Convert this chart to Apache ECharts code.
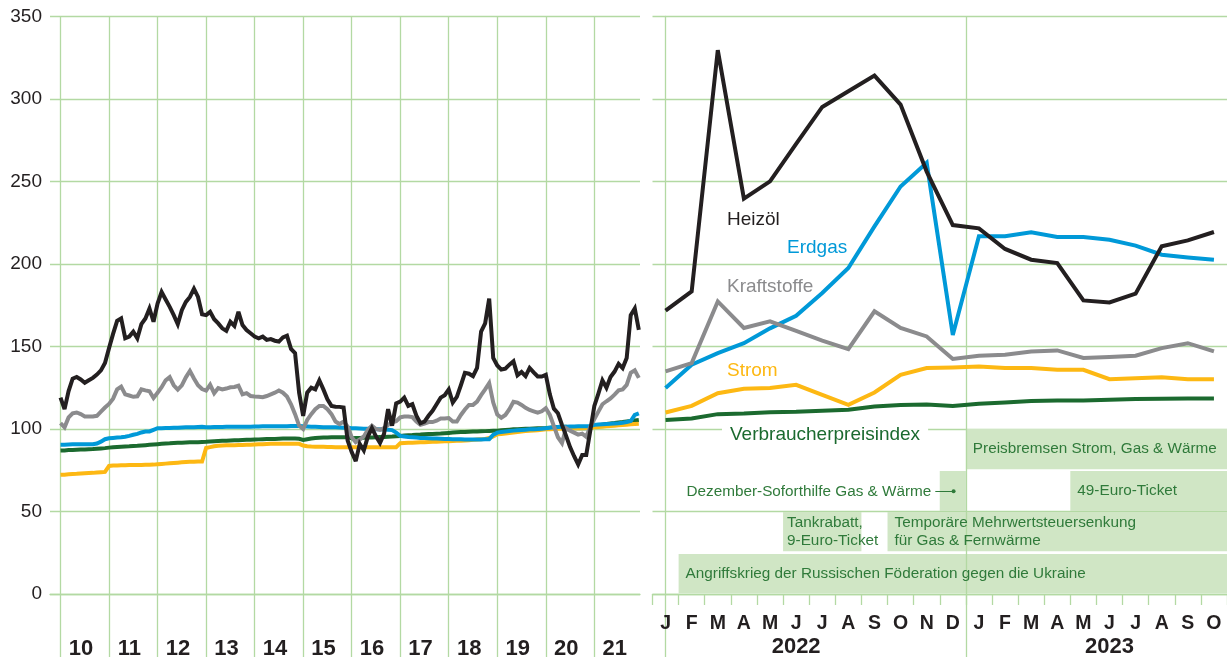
<!DOCTYPE html>
<html>
<head>
<meta charset="utf-8">
<script src="https://cdn.jsdelivr.net/npm/echarts@6/dist/echarts.min.js"></script>
<style>
  html, body { margin: 0; padding: 0; background: #fff; }
  #chart { width: 1227px; height: 657px; }
</style>
</head>
<body>
<div id="chart"></div>
<script>
// ---- left panel: monthly index values, Jan 2010 - Dec 2021 ----
const years = [2010, 2011, 2012, 2013, 2014, 2015, 2016, 2017, 2018, 2019, 2020, 2021];
const yearLabels = ['10', '11', '12', '13', '14', '15', '16', '17', '18', '19', '20', '21'];

const heizoelHist = [
    119, 112, 123, 130.5, 131.5, 130, 128, 129.5, 131, 133, 135.5, 140,
    149, 157.6, 165.5, 167, 155, 156, 159, 155, 163.5, 167, 173, 165,
    176, 183, 178.5, 174, 169, 163.5, 172, 177, 180, 185, 180, 169.5,
    169, 171, 166.5, 164, 161, 159.5, 165, 162.5, 171, 163, 160, 158,
    156, 155, 156, 154, 154.5, 153.5, 153, 155.5, 156.5, 148.5, 146, 122,
    108, 122, 125, 124, 129.5, 124, 118, 114, 113.5, 113.4, 113, 93,
    86, 80.5, 91, 87, 95.4, 100.5, 95.5, 91.5, 97, 112, 102, 115.5,
    116.6, 119, 114, 115, 108, 103.5, 104.5, 108, 111, 115, 119, 120.5,
    124, 116, 119.5, 126.5, 134, 133.5, 132, 137, 159, 164, 179, 143,
    138.5, 136, 136.5, 139, 141, 132.5, 134.5, 132, 137, 134.3, 131.8, 131.8,
    132.8, 121, 112.3, 109.5, 102.5, 96, 89, 83.5, 78.5, 84.3, 84.3, 99,
    114, 121.5, 129.5, 125, 131.5, 134.8, 139.5, 136.9, 143, 169, 173, 160
];
const kraftstoffeHist = [
    103.5, 101, 107, 109.5, 110, 109, 107.6, 107.6, 107.6, 108, 110.5, 113,
    115.2, 118.4, 124, 125.7, 121, 120.3, 119.5, 119.8, 124, 123.4, 122.9, 118.8,
    122, 125.3, 129.5, 131.4, 126.5, 123.9, 126.4, 131.3, 135.2, 130.6, 126.5, 124.2,
    123.3, 126.8, 121.7, 124.8, 124, 124.5, 125.3, 125.5, 126.2, 121, 121.7, 120,
    119.7, 119.5, 119.3, 120, 121, 122, 123.3, 122, 119.7, 115, 109, 102,
    100, 105.5, 109, 112, 114, 114, 112, 109, 104.5, 103, 104.5, 101.5,
    95, 92, 93.6, 95.5, 99.6, 102, 100, 99.5, 100.5, 102.5, 104, 104.7,
    107, 107.6, 107.6, 107.2, 104.5, 102.5, 103.2, 104.2, 104.2, 105, 106.4, 106.3,
    106.6, 104.5, 104.5, 108.5, 111.8, 114.6, 114.6, 116.6, 120.5, 124, 127.8, 116,
    108.8, 106.8, 108.5, 112, 116.5, 116, 114.6, 112.8, 111.5, 110.7, 109.9, 110.7,
    112.6, 108.5, 101.7, 95, 91.5, 100.5, 99, 97.8, 96.6, 97.2, 95.3, 101.3,
    106, 110.5, 115, 116.8, 118.5, 120.8, 123.4, 124, 126.7, 134, 135.5, 131
];
const erdgasHist = [
    90.5, 90.5, 90.6, 90.7, 90.8, 90.8, 90.8, 90.8, 90.8, 91.2, 92.3, 93.8,
    94.4, 94.6, 94.8, 95, 95.3, 95.8, 96.5, 97, 97.9, 98.5, 98.5, 99.5,
    100.5, 100.5, 100.6, 100.6, 100.7, 100.8, 100.9, 101, 101, 101.1, 101.2, 101.3,
    101.1, 101.1, 101.2, 101.2, 101.2, 101.3, 101.3, 101.3, 101.3, 101.3, 101.4, 101.4,
    101.5, 101.5, 101.6, 101.6, 101.6, 101.6, 101.7, 101.7, 101.7, 101.8, 101.8, 101.8,
    101.6, 101.5, 101.4, 101.3, 101.2, 101.1, 101.1, 101, 101, 100.9, 100.8, 100.7,
    100.5, 100.4, 100.3, 100.2, 100.1, 100, 99.9, 99.8, 99.7, 99.6, 99.3, 97.8,
    95.8, 95.5, 95.2, 95, 94.8, 94.6, 94.5, 94.4, 94.3, 94.2, 94.1, 94,
    93.9, 93.8, 93.8, 93.8, 93.7, 93.7, 93.7, 93.7, 93.7, 93.8, 93.8, 96.5,
    97.8, 98.2, 98.5, 98.8, 99, 99.2, 99.4, 99.6, 99.8, 99.9, 100, 100.2,
    100.5, 100.8, 101, 101.2, 101.3, 101.4, 101.5, 101.5, 101.6, 101.6, 101.7, 101.8,
    102.5, 102.7, 102.9, 103, 103.1, 103.3, 103.5, 103.8, 104.2, 104.8, 108.5, 109.5
];
const stromHist = [
    72.2, 72.3, 72.5, 72.7, 72.8, 73, 73.2, 73.3, 73.4, 73.6, 73.8, 74,
    77.6, 77.8, 77.9, 78, 78, 78.1, 78.1, 78.2, 78.2, 78.3, 78.3, 78.4,
    78.6, 78.8, 79, 79.2, 79.4, 79.6, 79.8, 80, 80.1, 80.2, 80.3, 80.3,
    88.5, 89, 89.5, 89.8, 90, 90.1, 90.2, 90.2, 90.3, 90.3, 90.4, 90.4,
    90.6, 90.7, 90.8, 90.9, 91, 91, 91, 91, 91, 91, 91, 91,
    90, 89.6, 89.4, 89.3, 89.2, 89.2, 89.1, 89.1, 89, 89, 89, 89,
    89, 89, 89, 89, 89, 89, 89, 89, 89, 89, 89, 89,
    91.4, 91.5, 91.6, 91.7, 91.8, 91.9, 92, 92.1, 92.2, 92.3, 92.4, 92.5,
    92.6, 92.7, 92.8, 92.9, 93, 93.2, 93.4, 93.6, 93.8, 94, 94.5, 95.5,
    96.8, 97, 97.3, 97.6, 97.9, 98.2, 98.5, 98.7, 98.9, 99.1, 99.3, 99.5,
    99.8, 99.9, 100, 100.1, 100.2, 100.3, 100.4, 100.4, 100.5, 100.5, 100.6, 100.7,
    101, 101.2, 101.4, 101.6, 101.8, 102, 102.2, 102.4, 102.6, 102.8, 103, 103.2
];
const vpiHist = [
    86.9, 87, 87.2, 87.3, 87.4, 87.5, 87.6, 87.7, 87.8, 88, 88.2, 88.4,
    88.7, 88.9, 89.1, 89.3, 89.4, 89.5, 89.7, 89.8, 90, 90.2, 90.4, 90.6,
    90.8, 91, 91.2, 91.3, 91.5, 91.6, 91.7, 91.8, 91.9, 92, 92, 92.1,
    92.2, 92.4, 92.6, 92.7, 92.8, 92.9, 93, 93.1, 93.2, 93.3, 93.4, 93.5,
    93.6, 93.7, 93.8, 93.9, 94, 94, 94.1, 94.2, 94.2, 94.2, 94.2, 94.1,
    93.4, 93.8, 94.2, 94.5, 94.7, 94.8, 94.9, 95, 95, 95, 95, 95,
    94.4, 94.5, 94.6, 94.7, 94.8, 94.9, 95, 95.1, 95.2, 95.3, 95.4, 95.6,
    95.8, 96, 96.2, 96.3, 96.5, 96.6, 96.8, 96.9, 97, 97.1, 97.2, 97.4,
    97.6, 97.8, 98, 98.1, 98.2, 98.3, 98.4, 98.5, 98.6, 98.7, 98.8, 98.9,
    99, 99.2, 99.4, 99.6, 99.8, 99.9, 100, 100.1, 100.2, 100.3, 100.4, 100.5,
    100.6, 100.8, 101, 101.2, 101.3, 101.4, 100.6, 100.5, 100.5, 100.4, 100.4, 100.5,
    101.8, 102.2, 102.6, 103, 103.3, 103.6, 104, 104.2, 104.5, 104.8, 105.2, 105.5
];

// ---- right panel: Jan 2022 - Oct 2023 ----
const monthLetters = ['J', 'F', 'M', 'A', 'M', 'J', 'J', 'A', 'S', 'O', 'N', 'D',
    'J', 'F', 'M', 'A', 'M', 'J', 'J', 'A', 'S', 'O'];
const yearUnderMonth = {5: '2022', 17: '2023'};

const heizoel = [171.7, 183.4, 329.6, 239.6, 250.1, 272.8, 295.2, 304.7, 314.2, 296.6, 256, 223.6,
    221.6, 209.1, 202.6, 200.6, 177.9, 176.7, 182, 210.7, 214.3, 219.4];
const erdgas = [124.8, 138.9, 146, 152, 161, 168.6, 182.4, 197.6, 222.8, 247, 261.3, 157,
    216.8, 216.8, 219.2, 216.4, 216.4, 214.7, 211.1, 205.6, 204, 202.6];
const kraftstoffe = [134.9, 139.9, 177.3, 161.2, 165.2, 159.5, 153.5, 148.4, 171.3, 161.2, 156.1, 142.4,
    144.4, 145, 147, 147.6, 143, 143.6, 144.4, 149, 152, 147];
const strom = [110, 114, 121.7, 124.4, 124.8, 126.8, 120.7, 114.6, 122.1, 132.8, 136.9, 137.3,
    137.9, 136.9, 136.9, 135.9, 135.9, 130.2, 130.8, 131.4, 130.2, 130.2];
const vpi = [105.5, 106.4, 109, 109.4, 110.2, 110.4, 111, 111.6, 113.6, 114.5, 114.9, 114,
    115.3, 116, 116.9, 117.3, 117.3, 117.7, 118.1, 118.3, 118.5, 118.5];

// relief measures (month index ranges, row from top)
const measures = [
    {text: 'Preisbremsen Strom, Gas & Wärme', from: 11.5, to: 21.5, row: 0},
    {text: '', from: 10.5, to: 11.5, row: 1},
    {text: '49-Euro-Ticket', from: 15.5, to: 21.5, row: 1},
    {text: 'Tankrabatt,\n9-Euro-Ticket', from: 4.5, to: 7.5, row: 2, pad: 4},
    {text: 'Temporäre Mehrwertsteuersenkung\nfür Gas & Fernwärme', from: 8.5, to: 21.5, row: 2},
    {text: 'Angriffskrieg der Russischen Föderation gegen die Ukraine', from: 0.5, to: 21.5, row: 3}
];
const yTicks = [0, 50, 100, 150, 200, 250, 300, 350];

const GRID = '#b3d9a3';
const BLACK = '#231f20', GRAY = '#8b8b8d', BLUE = '#0099d8', YELLOW = '#fdb813', GREEN = '#1b6a2f';
const BOX = '#d0e6c5', BOXTEXT = '#2f7a3a';
const FONT = '"Liberation Sans", Arial, sans-serif';

const rowRanges = [[100, 75.6], [74.6, 50.3], [49.7, 25.9], [24.3, 0.4]];

function histData(values) {
    return values.map((v, m) => [years[0] + m / 12, v]);
}
function recentData(values) {
    return values.map((v, i) => [i, v]);
}
function line(name, data, color, side, extra) {
    return Object.assign({
        name: name,
        type: 'line',
        xAxisIndex: side,
        yAxisIndex: side,
        data: data,
        showSymbol: false,
        silent: true,
        lineStyle: {color: color, width: 4, join: 'miter', miterLimit: 3}
    }, extra || {});
}

const chart = echarts.init(document.getElementById('chart'));

const yAxisBase = {
    type: 'value',
    min: -38.2,
    max: 350,
    axisTick: {show: false, customValues: yTicks},
    splitLine: {show: true, lineStyle: {color: GRID, width: 1.3}}
};

// labels sit at the bottom edge of the grid, so they are pulled back up with a negative margin
const option = {
    animation: false,
    textStyle: {fontFamily: FONT},
    grid: [
        {left: 50, top: 16.5, width: 590, bottom: 0, outerBoundsMode: 'none', containLabel: false},
        {left: 652.5, top: 16.5, right: 0, bottom: 0, outerBoundsMode: 'none', containLabel: false}
    ],
    xAxis: [{
        gridIndex: 0,
        type: 'value',
        min: 2009.7836,
        max: 2021.941,
        axisLine: {show: true, onZero: true, lineStyle: {color: GRID, width: 1.3}},
        axisTick: {show: false, customValues: years},
        splitLine: {show: true, lineStyle: {color: GRID, width: 1.3}},
        axisLabel: {
            customValues: years.map(y => y + 0.42),
            formatter: v => yearLabels[Math.floor(v) - years[0]],
            margin: -16.4,
            color: BLACK,
            fontSize: 22,
            lineHeight: 16,
            fontWeight: 'bold',
            hideOverlap: false
        }
    }, {
        gridIndex: 1,
        type: 'value',
        min: -0.5,
        max: 21.5,
        axisLine: {show: true, onZero: true, lineStyle: {color: GRID, width: 1.3}},
        axisTick: {
            show: true,
            length: 11,
            customValues: monthLetters.map((m, i) => i - 0.5).concat([21.5]),
            lineStyle: {color: GRID, width: 1.3}
        },
        splitLine: {show: false},
        axisLabel: {
            customValues: monthLetters.map((m, i) => i),
            margin: -48.3,
            hideOverlap: false,
            formatter: function (v) {
                let i = Math.round(v);
                let s = '{m|' + monthLetters[i] + '}';
                if (yearUnderMonth[i]) s += '\n{y|' + yearUnderMonth[i] + '}';
                return s;
            },
            rich: {
                m: {fontSize: 19.5, fontWeight: 'bold', color: BLACK, lineHeight: 30, fontFamily: FONT},
                y: {fontSize: 22, fontWeight: 'bold', color: BLACK, lineHeight: 17, fontFamily: FONT}
            }
        }
    }],
    yAxis: [Object.assign({}, yAxisBase, {
        gridIndex: 0,
        axisLine: {show: false},
        axisLabel: {customValues: yTicks, margin: 8, color: BLACK, fontSize: 19}
    }), Object.assign({}, yAxisBase, {
        gridIndex: 1,
        axisLine: {show: true, lineStyle: {color: GRID, width: 1.3}},
        axisLabel: {show: false}
    })],
    series: [
        line('Verbraucherpreisindex', histData(vpiHist), GREEN, 0),
        line('Strom', histData(stromHist), YELLOW, 0),
        line('Erdgas', histData(erdgasHist), BLUE, 0),
        line('Kraftstoffe', histData(kraftstoffeHist), GRAY, 0),
        line('Heizöl', histData(heizoelHist), BLACK, 0),

        line('Verbraucherpreisindex', recentData(vpi), GREEN, 1, {
            markArea: {
                silent: true,
                itemStyle: {color: BOX},
                data: measures.map(m => [{
                    name: m.text,
                    xAxis: m.from,
                    yAxis: rowRanges[m.row][0],
                    label: {
                        show: m.text != '',
                        position: 'insideLeft',
                        distance: m.pad || 7,
                        color: BOXTEXT,
                        fontSize: 15.3,
                        lineHeight: 17.5,
                        fontFamily: FONT
                    }
                }, {
                    xAxis: m.to,
                    yAxis: rowRanges[m.row][1]
                }])
            },
            markLine: {
                silent: true,
                symbol: ['none', 'circle'],
                symbolSize: 4,
                lineStyle: {color: BOXTEXT, width: 1, type: 'solid'},
                label: {show: true, position: 'start', distance: 4, color: BOXTEXT, fontSize: 15.3, fontFamily: FONT, formatter: '{b}'},
                data: [[{name: 'Dezember-Soforthilfe Gas & Wärme', coord: [10.33, 62.2]}, {coord: [11.03, 62.2]}]]
            }
        }),
        line('Strom', recentData(strom), YELLOW, 1, {
            markLine: {
                silent: true,
                symbol: 'none',
                z: 1,
                label: {show: false},
                lineStyle: {color: GRID, width: 1.3, type: 'solid'},
                data: [{xAxis: 11.5}]
            }
        }),
        line('Erdgas', recentData(erdgas), BLUE, 1),
        line('Kraftstoffe', recentData(kraftstoffe), GRAY, 1),
        line('Heizöl', recentData(heizoel), BLACK, 1)
    ],
    graphic: [
        {type: 'text', left: 727, top: 210, z: 50, style: {text: 'Heizöl', fill: BLACK, font: '19px ' + FONT}},
        {type: 'text', left: 787, top: 238, z: 50, style: {text: 'Erdgas', fill: BLUE, font: '19px ' + FONT}},
        {type: 'text', left: 727, top: 277.5, z: 50, style: {text: 'Kraftstoffe', fill: GRAY, font: '19px ' + FONT}},
        {type: 'text', left: 727, top: 361.5, z: 50, style: {text: 'Strom', fill: YELLOW, font: '19px ' + FONT}},
        {type: 'text', left: 722, top: 422, z: 50, style: {
            text: 'Verbraucherpreisindex', fill: GREEN, font: '19px ' + FONT,
            backgroundColor: '#fff', padding: [3, 8, 3, 8]
        }}
    ]
};

chart.setOption(option);
</script>
</body>
</html>
